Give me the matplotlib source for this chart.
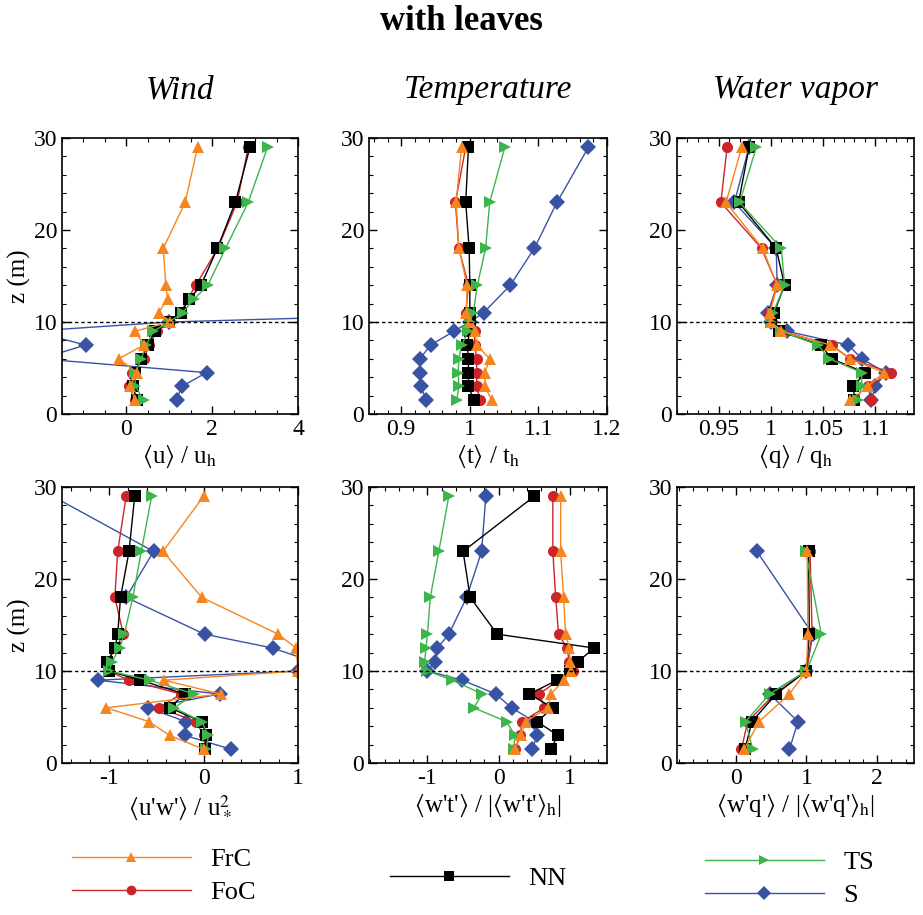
import matplotlib
matplotlib.use("Agg")
import matplotlib.pyplot as plt
from matplotlib.ticker import MultipleLocator, FuncFormatter
from matplotlib.lines import Line2D

plt.rcParams['font.family'] = ['Liberation Serif', 'STIXGeneral', 'DejaVu Serif']
plt.rcParams['mathtext.fontset'] = 'stix'

# heights (m)
z_full = [1.5, 3, 4.5, 6, 7.5, 9, 10, 11, 12.5, 14, 18, 23, 29]
z_mid = [1.5, 3, 4.5, 6, 7.5, 9, 10, 11, 14, 18, 23, 29]
z_flux_q = [1.5, 4.5, 7.5, 10, 14, 23]

# wind <u>/u_h
wind_frc = [0.20, 0.09, 0.25, -0.18, 0.41, 0.20, 1.02, 0.75, 0.96, 0.92, 0.86, 1.37, 1.66]
wind_foc = [0.21, 0.07, 0.14, 0.41, 0.53, 0.72, 1.00, 1.27, 1.43, 1.62, 2.13, 2.58, 2.84]
wind_nn = [0.25, 0.15, 0.20, 0.33, 0.51, 0.67, 1.00, 1.27, 1.47, 1.74, 2.12, 2.54, 2.88]
wind_ts = [0.41, 0.21, 0.20, 0.35, 0.46, 0.63, 1.00, 1.31, 1.58, 1.90, 2.31, 2.84, 3.29]
z_wind_s = [1.5, 3, 4.5, 6, 7.5, 9, 10, 11]
wind_s = [1.17, 1.29, 1.87, -2.0, -0.95, -2.2, 1.0, 8.5]

# temperature <t>/t_h
temp_frc = [1.032, 1.022, 1.022, 1.029, 1.010, 1.007, 1.0, 0.995, 0.996, 0.984, 0.980, 0.988]
temp_foc = [1.015, 1.010, 1.010, 1.010, 1.007, 1.007, 1.0, 0.994, 0.998, 0.984, 0.979, 0.994]
temp_nn = [1.006, 0.998, 0.998, 0.998, 0.996, 1.000, 1.0, 1.000, 1.000, 0.999, 0.994, 0.998]
temp_ts = [0.981, 0.984, 0.983, 0.984, 0.988, 0.998, 1.0, 1.005, 1.011, 1.023, 1.029, 1.051]
temp_s = [0.936, 0.929, 0.927, 0.927, 0.943, 0.977, 1.0, 1.020, 1.059, 1.094, 1.127, 1.173]

# water vapor <q>/q_h
vap_frc = [1.076, 1.093, 1.108, 1.076, 1.057, 1.010, 1.0, 0.999, 1.006, 0.992, 0.957, 0.972]
vap_foc = [1.096, 1.093, 1.115, 1.076, 1.058, 1.010, 1.0, 0.998, 1.006, 0.991, 0.952, 0.958]
vap_nn = [1.080, 1.079, 1.090, 1.058, 1.048, 1.008, 1.0, 1.003, 1.013, 1.005, 0.969, 0.979]
vap_ts = [1.083, 1.087, 1.087, 1.056, 1.045, 1.010, 1.0, 1.002, 1.013, 1.010, 0.970, 0.986]
vap_s = [1.096, 1.100, 1.110, 1.087, 1.074, 1.015, 1.0, 0.997, 1.006, 1.005, 0.965, 0.979]

# momentum flux <u'w'>/u*^2
z_uw_frc = [1.5, 3, 4.5, 6, 7.5, 9, 10, 12.5, 14, 18, 23, 29]
uw_frc = [0.00, -0.36, -0.58, -1.03, 0.18, -0.42, 1.00, 0.98, 0.79, -0.02, -0.43, 0.00]
uw_foc = [0.02, 0.00, -0.08, -0.47, -0.24, -0.79, -1.01, -1.02, -0.93, -0.85, -0.94, -0.91, -0.82]
uw_nn = [0.02, 0.03, -0.02, -0.36, -0.20, -0.67, -1.00, -1.02, -0.94, -0.91, -0.88, -0.79, -0.73]
uw_ts = [0.03, 0.05, -0.02, -0.31, -0.10, -0.57, -1.00, -0.97, -0.89, -0.84, -0.75, -0.66, -0.55]
uw_s = [0.29, -0.20, -0.19, -0.59, 0.17, -1.12, 1.00, 1.16, 0.73, 0.01, -0.82, -0.53, -1.6]

# heat flux <w't'>/|<w't'>_h|
wt_frc = [0.23, 0.31, 0.38, 0.69, 0.73, 0.92, 1.02, 1.00, 0.99, 0.94, 0.91, 0.87, 0.87]
wt_foc = [0.23, 0.30, 0.33, 0.64, 0.57, 0.84, 1.04, 0.99, 0.96, 0.84, 0.80, 0.76, 0.76]
wt_nn = [0.73, 0.83, 0.54, 0.76, 0.43, 0.82, 1.00, 1.11, 1.34, -0.02, -0.40, -0.50, 0.50]
wt_ts = [0.21, 0.23, 0.11, -0.35, -0.23, -0.65, -1.00, -1.04, -1.02, -1.00, -0.96, -0.84, -0.70]
wt_s = [0.47, 0.54, 0.50, 0.18, -0.04, -0.51, -1.00, -0.89, -0.86, -0.70, -0.45, -0.24, -0.18]

# vapor flux <w'q'>/|<w'q'>_h|
wq_frc = [0.12, 0.33, 0.76, 1.0, 1.02, 1.01]
wq_foc = [0.08, 0.17, 0.55, 1.0, 1.08, 1.05]
wq_nn = [0.13, 0.23, 0.57, 1.0, 1.04, 1.03]
wq_ts = [0.24, 0.14, 0.48, 1.0, 1.21, 0.99]
wq_s = [0.76, 0.88, 0.48, 1.0, 1.09, 0.30]

colors = {'FrC': '#F7851F', 'FoC': '#CC2529', 'NN': 'black', 'TS': '#3DB54A', 'S': '#3953A4'}
markers = {'FrC': '^', 'FoC': 'o', 'NN': 's', 'TS': '>', 'S': 'D'}
draw_order = ['S', 'FoC', 'NN', 'TS', 'FrC']

L, R = r'$\langle$', r'$\rangle$'

panels = [
    {'series': {'FrC': (z_full, wind_frc), 'FoC': (z_full, wind_foc), 'NN': (z_full, wind_nn),
                'TS': (z_full, wind_ts), 'S': (z_wind_s, wind_s)},
     'xlim': (-1.5, 4), 'major': 2, 'minor': 0.5,
     'xlabel': L + 'u' + R + r' / u$_\mathrm{h}$'},
    {'series': {'FrC': (z_mid, temp_frc), 'FoC': (z_mid, temp_foc), 'NN': (z_mid, temp_nn),
                'TS': (z_mid, temp_ts), 'S': (z_mid, temp_s)},
     'xlim': (0.853, 1.2), 'major': 0.1, 'minor': 0.02,
     'xlabel': L + 't' + R + r' / t$_\mathrm{h}$'},
    {'series': {'FrC': (z_mid, vap_frc), 'FoC': (z_mid, vap_foc), 'NN': (z_mid, vap_nn),
                'TS': (z_mid, vap_ts), 'S': (z_mid, vap_s)},
     'xlim': (0.91, 1.137), 'major': 0.05, 'minor': 0.01,
     'xlabel': L + 'q' + R + r' / q$_\mathrm{h}$'},
    {'series': {'FrC': (z_uw_frc, uw_frc), 'FoC': (z_full, uw_foc), 'NN': (z_full, uw_nn),
                'TS': (z_full, uw_ts), 'S': (z_full, uw_s)},
     'xlim': (-1.5, 1), 'major': 1, 'minor': 0.2,
     'xlabel': L + "u'w'" + R + r' / u$_*^2$'},
    {'series': {'FrC': (z_full, wt_frc), 'FoC': (z_full, wt_foc), 'NN': (z_full, wt_nn),
                'TS': (z_full, wt_ts), 'S': (z_full, wt_s)},
     'xlim': (-1.82, 1.52), 'major': 1, 'minor': 0.2,
     'xlabel': L + "w't'" + R + ' / |' + L + "w't'" + R + r'$_\mathrm{h}$|'},
    {'series': {'FrC': (z_flux_q, wq_frc), 'FoC': (z_flux_q, wq_foc), 'NN': (z_flux_q, wq_nn),
                'TS': (z_flux_q, wq_ts), 'S': (z_flux_q, wq_s)},
     'xlim': (-0.83, 2.52), 'major': 1, 'minor': 0.2,
     'xlabel': L + "w'q'" + R + ' / |' + L + "w'q'" + R + r'$_\mathrm{h}$|'},
]

W, H = 923, 915
fig = plt.figure(figsize=(W / 100, H / 100), dpi=100)

col_x = [62, 369, 677]
col_w = [236, 238, 237]
row_top = [138, 487]
row_h = 276

fmt = FuncFormatter(lambda v, pos: '%g' % round(v, 6))

for i, p in enumerate(panels):
    r, c = divmod(i, 3)
    ax = fig.add_axes([col_x[c] / W, 1 - (row_top[r] + row_h) / H, col_w[c] / W, row_h / H])
    for name in draw_order:
        zz, vals = p['series'][name]
        ax.plot(vals, zz, color=colors[name], marker=markers[name], ms=8, lw=1.0, mew=0)
    ax.axhline(10, color='black', ls=(0, (2.5, 2)), lw=1)
    ax.set_xlim(*p['xlim'])
    ax.set_ylim(0, 30)
    ax.xaxis.set_major_locator(MultipleLocator(p['major']))
    ax.xaxis.set_minor_locator(MultipleLocator(p['minor']))
    ax.xaxis.set_major_formatter(fmt)
    ax.yaxis.set_major_locator(MultipleLocator(10))
    ax.yaxis.set_minor_locator(MultipleLocator(2))
    ax.tick_params(which='both', direction='in', top=True, right=True, labelsize=17)
    ax.tick_params(which='major', length=6, width=1)
    ax.tick_params(which='minor', length=3, width=0.8)
    for s in ax.spines.values():
        s.set_linewidth(1.2)
    ax.set_xlabel(p['xlabel'], fontsize=18, labelpad=3)
    if c == 0:
        ax.set_ylabel('z (m)', fontsize=18, labelpad=2)

fig.text(0.5, 1 - 22 / H, 'with leaves', ha='center', va='center', fontsize=25, fontweight='bold')
for c, t in enumerate(['Wind', 'Temperature', 'Water vapor']):
    fig.text((col_x[c] + col_w[c] / 2) / W, 1 - 90 / H, t, ha='center', va='center',
             fontsize=24, style='italic')

def handle(name):
    return Line2D([], [], color=colors[name], marker=markers[name], ms=7, lw=1.0, mew=0)

leg_kw = dict(frameon=False, fontsize=19, handlelength=4.5, handletextpad=0.75,
              labelspacing=0.35, borderpad=0, borderaxespad=0, loc='center left')
fig.legend([handle('FrC'), handle('FoC')], ['FrC', 'FoC'],
           bbox_to_anchor=(72 / W, 1 - 876 / H), **leg_kw)
fig.legend([handle('NN')], ['NN'], bbox_to_anchor=(390 / W, 1 - 878 / H), **leg_kw)
fig.legend([handle('TS'), handle('S')], ['TS', 'S'],
           bbox_to_anchor=(705 / W, 1 - 879 / H), **leg_kw)

fig.savefig('out.png', dpi=100)
